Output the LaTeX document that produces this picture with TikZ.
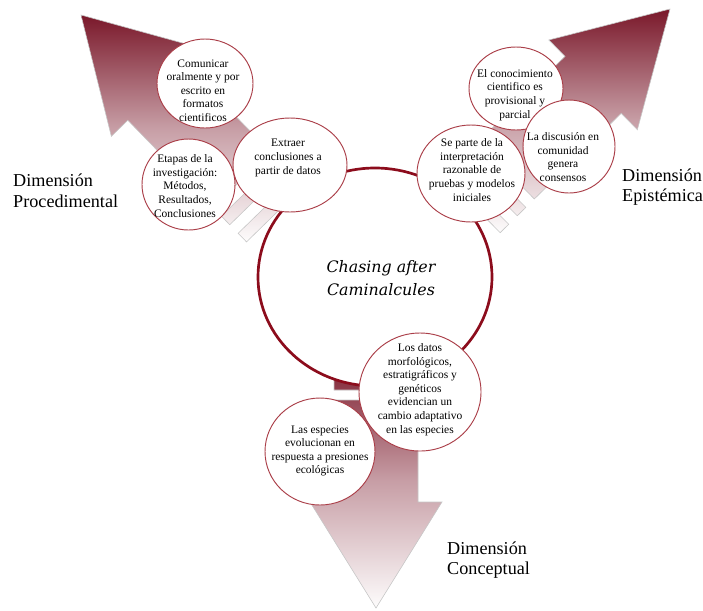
\documentclass[tikz,border=0pt]{standalone}
\usepackage{fontspec}
\setmainfont{Liberation Serif}
\newfontfamily\chasefont{DejaVu Serif}
\usepackage{tikz}
\usetikzlibrary{shapes.geometric}

\definecolor{arrowdark}{RGB}{122,24,42}
\definecolor{arrowlight}{RGB}{253,252,252}
\definecolor{bubbleline}{RGB}{170,62,72}
\definecolor{ringline}{RGB}{140,12,28}

\tikzset{
  arrowbody/.style={top color=arrowdark, bottom color=arrowlight, middle color=arrowdark!42!white, draw=gray!45, line width=0.5pt},
  bubble/.style={ellipse, draw=bubbleline, fill=white, line width=0.8pt, inner sep=0pt},
  bubbletext/.style={align=center, inner sep=0pt, font=\fontsize{9.8}{11.6}\selectfont},
  dimlabel/.style={anchor=west, align=left, inner sep=0pt, font=\fontsize{15.5}{17.5}\selectfont}
}

\begin{document}
\begin{tikzpicture}[x=0.3mm, y=-0.3mm]
\useasboundingbox (0,0) rectangle (703,610);

% Arrows: tip, angle, head length, head/shaft half width, shaft end, stripes
\foreach \nm/\tx/\ty/\rot/\hh/\hw/\sw/\se/\sa/\sb in
  {pl/81/15/-45.7/108/63/40/230/242/266,
   pr/670/9/-135.4/108/63/40/230/242/266,
   pc/376/608/90/106/66/42/208/218/242}{
  \begin{scope}[shift={(\tx,\ty)}, rotate=\rot]
    \coordinate (\nm-tip) at (0,0);
    \coordinate (\nm-bl) at (\hh,\hw);
    \coordinate (\nm-nl) at (\hh,\sw);
    \coordinate (\nm-el) at (\se,\sw);
    \coordinate (\nm-er) at (\se,-\sw);
    \coordinate (\nm-nr) at (\hh,-\sw);
    \coordinate (\nm-br) at (\hh,-\hw);
    \coordinate (\nm-s1a) at (\sa,\sw);
    \coordinate (\nm-s1b) at (\sa+12,\sw);
    \coordinate (\nm-s1c) at (\sa+12,-\sw);
    \coordinate (\nm-s1d) at (\sa,-\sw);
    \coordinate (\nm-s2a) at (\sb,\sw);
    \coordinate (\nm-s2b) at (\sb+12,\sw);
    \coordinate (\nm-s2c) at (\sb+12,-\sw);
    \coordinate (\nm-s2d) at (\sb,-\sw);
  \end{scope}
  \shade[arrowbody] (\nm-tip) -- (\nm-bl) -- (\nm-nl) -- (\nm-el) -- (\nm-er) -- (\nm-nr) -- (\nm-br) -- cycle
    (\nm-s1a) -- (\nm-s1b) -- (\nm-s1c) -- (\nm-s1d) -- cycle
    (\nm-s2a) -- (\nm-s2b) -- (\nm-s2c) -- (\nm-s2d) -- cycle;
}

% Nodes
\node[ellipse, draw=ringline, fill=white, line width=2.3pt, minimum width=70.2mm, minimum height=65.4mm] (chase) at (375,277) {};

\node[bubble, minimum width=28.8mm, minimum height=26.7mm] (comu) at (205,83.5) {};
\node[bubble, minimum width=27.9mm, minimum height=27.3mm] (etap) at (188.5,184.5) {};
\node[bubble, minimum width=34.2mm, minimum height=28.2mm] (extr) at (290,165) {};
\node[bubble, minimum width=28.2mm, minimum height=24.9mm] (cono) at (516,88.5) {};
\node[bubble, minimum width=27.6mm, minimum height=27.9mm] (disc) at (569,146.5) {};
\node[bubble, minimum width=32.4mm, minimum height=29.1mm] (sepa) at (471,173.5) {};
\node[bubble, minimum width=33mm, minimum height=32.1mm] (espe) at (320,451.5) {};
\node[bubble, minimum width=36.6mm, minimum height=35.4mm] (dato) at (420,392) {};

% Texts
\node[align=center, font=\chasefont\itshape\fontsize{13.5}{19.5}\selectfont] (chase-txt) at (381,278) {Chasing after\\Caminalcules};
\node[bubbletext] (comu-txt) at (203,90.5) {Comunicar\\oralmente y por\\escrito en\\formatos\\cientificos};
\node[bubbletext] (etap-txt) at (185,186) {Etapas de la\\investigación:\\Métodos,\\Resultados,\\Conclusiones};
\node[bubbletext] (extr-txt) at (288,158) {Extraer\\conclusiones a\\partir de datos};
\node[bubbletext] (cono-txt) at (515,95) {El conocimiento\\cientifico es\\provisional y\\parcial};
\node[bubbletext] (disc-txt) at (563,157) {La discusión en\\comunidad\\genera\\consensos};
\node[bubbletext] (sepa-txt) at (472,170) {Se parte de la\\interpretación\\razonable de\\pruebas y modelos\\iniciales};
\node[bubbletext] (espe-txt) at (320,451) {Las especies\\evolucionan en\\respuesta a presiones\\ecológicas};
\node[bubbletext] (dato-txt) at (420,389.5) {Los datos\\morfológicos,\\estratigráficos y\\genéticos\\evidencian un\\cambio adaptativo\\en las especies};

\node[dimlabel] (proc) at (13,191) {Dimensión\\Procedimental};
\node[dimlabel] (epis) at (622,187) {Dimensión\\Epistémica};
\node[dimlabel] (conc) at (447,560) {Dimensión\\Conceptual};
\end{tikzpicture}
\end{document}
